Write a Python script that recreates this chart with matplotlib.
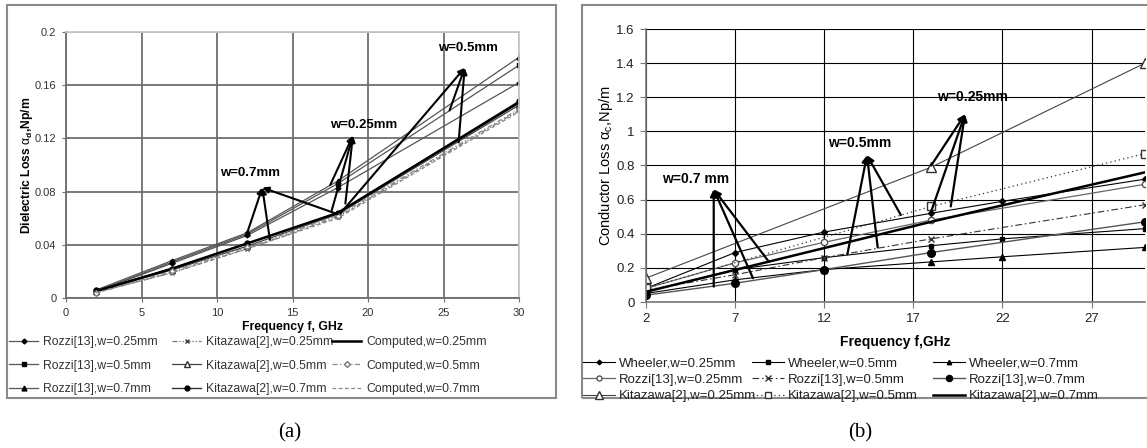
import matplotlib
matplotlib.use('Agg')
import matplotlib.pyplot as plt
from matplotlib.patches import Rectangle
from matplotlib.ticker import FuncFormatter

plt.rcParams['font.family'] = ['Liberation Sans', 'DejaVu Sans']
plt.rcParams['mathtext.fontset'] = 'custom'
plt.rcParams['mathtext.rm'] = 'Liberation Sans'
plt.rcParams['mathtext.it'] = 'Liberation Sans'
plt.rcParams['mathtext.bf'] = 'Liberation Sans:bold'

# ---- (a) dielectric loss ----
f_a = [2, 7, 12, 18, 30]
rozzi_a_025 = [0.005, 0.026, 0.047, 0.083, 0.162]
rozzi_a_05 = [0.005, 0.027, 0.048, 0.086, 0.175]
rozzi_a_07 = [0.006, 0.028, 0.049, 0.088, 0.181]
kit_a_025 = [0.004, 0.019, 0.037, 0.061, 0.141]
kit_a_05 = [0.005, 0.021, 0.039, 0.063, 0.145]
kit_a_07 = [0.006, 0.022, 0.041, 0.064, 0.148]
comp_a_025 = [0.005, 0.022, 0.041, 0.064, 0.147]
comp_a_05 = [0.004, 0.020, 0.038, 0.062, 0.142]
comp_a_07 = [0.004, 0.019, 0.037, 0.060, 0.140]

# annotation label, text pos, arrow tip, line bases
ann_a = [
    ('w=0.7mm', (12.2, 0.094), (13.0, 0.083), [(12.0, 0.049), (13.5, 0.044), (18.0, 0.063)]),
    ('w=0.25mm', (19.7, 0.130), (19.0, 0.122), [(17.5, 0.085), (17.6, 0.066), (18.5, 0.071)]),
    ('w=0.5mm', (26.6, 0.188), (26.4, 0.173), [(18.2, 0.064), (25.4, 0.141), (26.0, 0.117)]),
]

# ---- (b) conductor loss ----
f_w = [2, 7, 12, 18, 22, 30]
wheeler_025 = [0.08, 0.29, 0.41, 0.52, 0.59, 0.72]
wheeler_05 = [0.06, 0.19, 0.26, 0.33, 0.37, 0.43]
wheeler_07 = [0.05, 0.13, 0.19, 0.235, 0.265, 0.32]
f_r = [2, 7, 12, 18, 30]
rozzi_b_025 = [0.08, 0.23, 0.35, 0.48, 0.69]
rozzi_b_05 = [0.07, 0.16, 0.26, 0.37, 0.57]
rozzi_b_07 = [0.04, 0.11, 0.19, 0.29, 0.47]
f_k = [2, 18, 30]
kit_b_025 = [0.14, 0.79, 1.40]
kit_b_05 = [0.08, 0.56, 0.87]
kit_b_07 = [0.06, 0.47, 0.76]

ann_b = [
    ('w=0.7 mm', (4.8, 0.72), (5.8, 0.66), [(5.8, 0.09), (8.0, 0.14), (8.9, 0.235)]),
    ('w=0.5mm', (14.0, 0.93), (14.4, 0.86), [(13.3, 0.28), (15.0, 0.32), (16.3, 0.51)]),
    ('w=0.25mm', (20.3, 1.20), (19.9, 1.10), [(18.0, 0.80), (18.0, 0.53), (19.1, 0.56)]),
]

W, H = 1147, 448
fig = plt.figure(figsize=(W / 100, H / 100), dpi=100)

def fx(px):
    return px / W

def fy(py):
    return 1 - py / H

# panel frames
fig.add_artist(Rectangle((fx(7), fy(398)), fx(549), 393 / H, transform=fig.transFigure,
                         fill=False, ec='#8a8a8a', lw=1.5))
fig.add_artist(Rectangle((fx(582), fy(398)), 1.0, 393 / H, transform=fig.transFigure,
                         fill=False, ec='#8a8a8a', lw=1.5))

fmt = FuncFormatter(lambda v, p: '{:g}'.format(round(v, 3)))

# ===== panel (a) =====
ax = fig.add_axes([fx(66), fy(298), fx(453), 266 / H])
ms = 3.5
ax.plot(f_a, rozzi_a_025, '-', color='#555555', lw=0.9, marker='D', ms=2.5, mfc='black', mec='black',
        label='Rozzi[13],w=0.25mm')
ax.plot(f_a, rozzi_a_05, '-', color='#555555', lw=0.9, marker='s', ms=ms - 0.5, mfc='black', mec='black',
        label='Rozzi[13],w=0.5mm')
ax.plot(f_a, rozzi_a_07, '-', color='#555555', lw=0.9, marker='^', ms=ms, mfc='black', mec='black',
        label='Rozzi[13],w=0.7mm')
ax.plot(f_a, kit_a_025, color='#777777', lw=0.9, ls=(0, (4, 1.5, 1, 1.5, 1, 1.5)), marker='x', ms=ms,
        mec='#444444', label='Kitazawa[2],w=0.25mm')
ax.plot(f_a, kit_a_05, '-', color='#444444', lw=0.9, marker='^', ms=ms + 0.5, mfc='white', mec='#333333',
        label='Kitazawa[2],w=0.5mm')
ax.plot(f_a, kit_a_07, '-', color='#333333', lw=1.0, marker='o', ms=ms, mfc='black', mec='black',
        label='Kitazawa[2],w=0.7mm')
ax.plot(f_a, comp_a_025, '-', color='black', lw=1.8, label='Computed,w=0.25mm')
ax.plot(f_a, comp_a_05, color='#888888', lw=0.9, ls=(0, (4, 2, 1, 2)), marker='D', ms=3, mfc='white',
        mec='#777777', label='Computed,w=0.5mm')
ax.plot(f_a, comp_a_07, color='#888888', lw=0.9, ls=(0, (3, 2)), label='Computed,w=0.7mm')

for txt, tpos, tip, bases in ann_a:
    ax.text(tpos[0], tpos[1], txt, fontsize=9.5, fontweight='bold', ha='center', va='center')
    for b in bases:
        ax.annotate('', xy=tip, xytext=b,
                    arrowprops=dict(arrowstyle='-|>', color='black', lw=1.5, mutation_scale=9,
                                    shrinkA=0, shrinkB=0))

ax.set_xlim(0, 30)
ax.set_ylim(0, 0.2)
ax.set_xticks(range(0, 31, 5))
ax.set_yticks([0, 0.04, 0.08, 0.12, 0.16, 0.2])
ax.yaxis.set_major_formatter(fmt)
ax.grid(True, color='#6e6e6e', lw=1.3)
ax.set_axisbelow(True)
for s in ['top', 'right']:
    ax.spines[s].set_color('#c8c8c8')
    ax.spines[s].set_linewidth(1.3)
for s in ['left', 'bottom']:
    ax.spines[s].set_color('#6e6e6e')
    ax.spines[s].set_linewidth(1.3)
ax.tick_params(labelsize=8, length=3, color='#6e6e6e', colors='#333333', pad=4)
ax.set_xlabel('Frequency f, GHz', fontsize=8.8, fontweight='bold')
ax.xaxis.set_label_coords(0.5, -0.085)
ax.set_ylabel(r'Dielectric Loss $\alpha_{\mathbf{d}}$,Np/m', fontsize=8.7, fontweight='bold')
ax.yaxis.set_label_coords(-0.068, 0.5)

h, l = ax.get_legend_handles_labels()
col_x_a = [9, 172, 332]
for c in range(3):
    fig.legend(h[3 * c:3 * c + 3], l[3 * c:3 * c + 3], loc='upper left',
               bbox_to_anchor=(fx(col_x_a[c]), fy(336)), frameon=False, fontsize=8.8,
               handlelength=2.4, handletextpad=0.4, labelspacing=0.95, borderpad=0,
               borderaxespad=0, labelcolor='#333333')

fig.text(fx(290), fy(433), '(a)', family='Liberation Serif', fontsize=15, ha='center', va='center')

# ===== panel (b) =====
bx = fig.add_axes([fx(646), fy(302), fx(499), 273 / H])
bx.plot(f_w, wheeler_025, '-', color='black', lw=0.8, marker='D', ms=3, mfc='black', mec='black',
        label='Wheeler,w=0.25mm')
bx.plot(f_r, rozzi_b_025, '-', color='#666666', lw=0.9, marker='o', ms=4.5, mfc='white', mec='#555555',
        label='Rozzi[13],w=0.25mm')
bx.plot(f_k, kit_b_025, '-', color='#444444', lw=0.8, marker='^', ms=6.5, mfc='white', mec='#333333',
        label='Kitazawa[2],w=0.25mm')
bx.plot(f_w, wheeler_05, '-', color='black', lw=0.8, marker='s', ms=3.5, mfc='black', mec='black',
        label='Wheeler,w=0.5mm')
bx.plot(f_r, rozzi_b_05, color='#333333', lw=0.8, ls=(0, (6, 2.5, 1.5, 2.5)), marker='x', ms=5,
        mec='#333333', label='Rozzi[13],w=0.5mm')
bx.plot(f_k, kit_b_05, color='#333333', lw=0.9, ls=(0, (1, 2.5)), marker='s', ms=5.5, mfc='white',
        mec='#333333', label='Kitazawa[2],w=0.5mm')
bx.plot(f_w, wheeler_07, '-', color='black', lw=0.8, marker='^', ms=4, mfc='black', mec='black',
        label='Wheeler,w=0.7mm')
bx.plot(f_r, rozzi_b_07, '-', color='#555555', lw=1.0, marker='o', ms=5.5, mfc='black', mec='black',
        label='Rozzi[13],w=0.7mm')
bx.plot(f_k, kit_b_07, '-', color='black', lw=1.8, label='Kitazawa[2],w=0.7mm')

for txt, tpos, tip, bases in ann_b:
    bx.text(tpos[0], tpos[1], txt, fontsize=10, fontweight='bold', ha='center', va='center')
    for b in bases:
        bx.annotate('', xy=tip, xytext=b,
                    arrowprops=dict(arrowstyle='-|>', color='black', lw=1.6, mutation_scale=10,
                                    shrinkA=0, shrinkB=0))

bx.set_xlim(2, 30)
bx.set_ylim(0, 1.6)
bx.set_xticks([2, 7, 12, 17, 22, 27])
bx.set_yticks([0, 0.2, 0.4, 0.6, 0.8, 1.0, 1.2, 1.4, 1.6])
bx.yaxis.set_major_formatter(fmt)
bx.grid(True, color='black', lw=0.8)
bx.set_axisbelow(True)
for s in ['top', 'right']:
    bx.spines[s].set_visible(False)
for s in ['left', 'bottom']:
    bx.spines[s].set_color('#777777')
    bx.spines[s].set_linewidth(1.2)
bx.tick_params(labelsize=9.5, length=4, color='#777777', colors='#222222', pad=4)
bx.set_xlabel('Frequency f,GHz', fontsize=10, fontweight='bold')
bx.xaxis.set_label_coords(0.5, -0.12)
bx.set_ylabel(r'Conductor Loss $\alpha_c$,Np/m', fontsize=10.5)
bx.yaxis.set_label_coords(-0.062, 0.5)

h, l = bx.get_legend_handles_labels()
col_x_b = [583, 752, 933]
for c in range(3):
    fig.legend(h[3 * c:3 * c + 3], l[3 * c:3 * c + 3], loc='upper left',
               bbox_to_anchor=(fx(col_x_b[c]), fy(357)), frameon=False, fontsize=9.5,
               handlelength=2.4, handletextpad=0.3, labelspacing=0.32, borderpad=0,
               borderaxespad=0, labelcolor='#222222', markerscale=0.8)

fig.text(fx(860), fy(433), '(b)', family='Liberation Serif', fontsize=15, ha='center', va='center')

fig.savefig('out.png', dpi=100)
